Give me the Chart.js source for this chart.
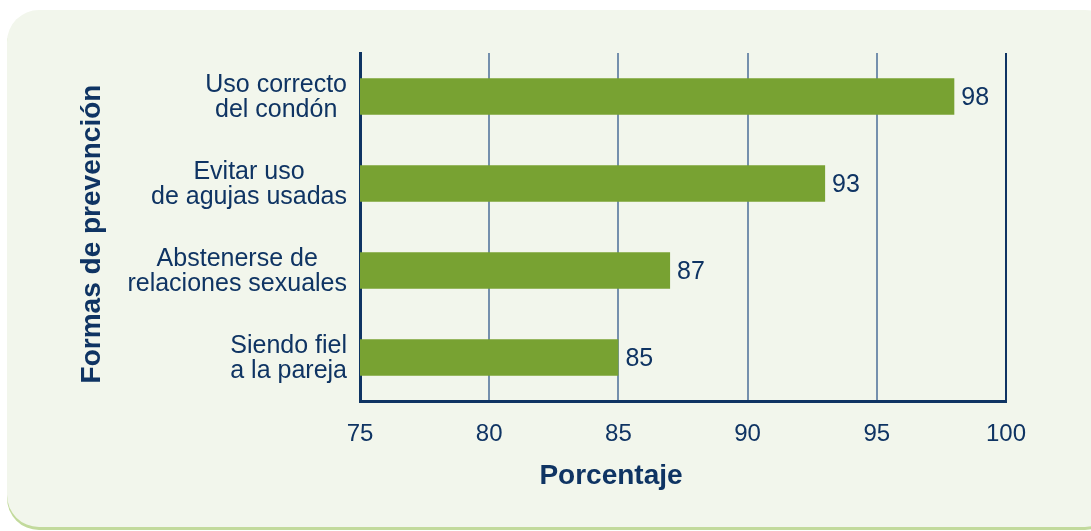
<!DOCTYPE html>
<html>
<head>
<meta charset="utf-8">
<script src="https://cdn.jsdelivr.net/npm/chart.js@4"></script>
<style>
    html, body { margin: 0; padding: 0; background: #ffffff; }
    #panel {
        position: absolute; left: 7px; top: 10px; width: 1110px; height: 517px;
        background: #f2f6ec; border-radius: 32px;
        box-shadow: 0 3px 0 #c2da9c;
    }
    #wrap { position: absolute; left: 0; top: 0; width: 1091px; height: 531px; }
</style>
</head>
<body>
<div id="panel"></div>
<div id="wrap"><canvas id="chart" width="1091" height="531"></canvas></div>
<script>
// categories and values
const categories = [
    ["Uso correcto", "del condón"],
    ["Evitar uso", "de agujas usadas"],
    ["Abstenerse de", "relaciones sexuales"],
    ["Siendo fiel", "a la pareja"]
];
const values = [98, 93, 87, 85];
const xMin = 75, xMax = 100, xStep = 5;
const xTitle = "Porcentaje";
const yTitle = "Formas de prevención";

const navy = "#0f3463";
const gridBlue = "#7590ad";
const barGreen = "#78a232";
const fontFamily = "'Liberation Sans', Arial, Helvetica, sans-serif";

// category labels (each block centred on itself) and the two axis titles
const labelsAndTitles = {
    id: "labelsAndTitles",
    afterDraw(chart) {
        const ctx = chart.ctx;
        const y = chart.scales.y;
        const area = chart.chartArea;
        ctx.save();
        ctx.font = "25px " + fontFamily;
        ctx.fillStyle = navy;
        ctx.textAlign = "center";
        ctx.textBaseline = "middle";
        const lineH = 25;
        categories.forEach((lines, i) => {
            const widest = Math.max(...lines.map(l => ctx.measureText(l).width));
            const cx = area.left - 13 - widest / 2;
            const cy = y.getPixelForValue(i) + 1;
            lines.forEach((l, j) => {
                ctx.fillText(l, cx, cy + (j - (lines.length - 1) / 2) * lineH);
            });
        });

        ctx.font = "bold 28px " + fontFamily;
        ctx.fillText(xTitle, 611, 476);

        ctx.translate(92, 234);
        ctx.rotate(-Math.PI / 2);
        ctx.fillText(yTitle, 0, 0);
        ctx.restore();
    }
};

// value at the end of each bar
const valueLabels = {
    id: "valueLabels",
    afterDatasetsDraw(chart) {
        const ctx = chart.ctx;
        const meta = chart.getDatasetMeta(0);
        ctx.save();
        ctx.font = "25px " + fontFamily;
        ctx.fillStyle = navy;
        ctx.textAlign = "left";
        ctx.textBaseline = "middle";
        meta.data.forEach((bar, i) => {
            ctx.fillText(String(values[i]), bar.x + 7, bar.y + 2);
        });
        ctx.restore();
    }
};

new Chart(document.getElementById("chart"), {
    type: "bar",
    data: {
        labels: categories.map(c => c.join(" ")),
        datasets: [{
            data: values,
            backgroundColor: barGreen,
            borderWidth: 0,
            categoryPercentage: 1,
            barPercentage: 0.42
        }]
    },
    options: {
        indexAxis: "y",
        responsive: false,
        animation: false,
        events: [],
        layout: { padding: { left: 0, top: 53, right: 85, bottom: 0 } },
        plugins: { legend: { display: false }, tooltip: { enabled: false } },
        scales: {
            x: {
                min: xMin, max: xMax,
                ticks: {
                    stepSize: xStep, padding: 19, color: navy,
                    font: { family: fontFamily, size: 24 }
                },
                grid: {
                    drawTicks: false, lineWidth: 2,
                    color: c => c.tick && c.tick.value === xMax ? navy : gridBlue
                },
                border: { color: navy, width: 3 },
                afterFit: s => { s.height = 130; }
            },
            y: {
                ticks: { display: false },
                grid: { display: false, drawTicks: false },
                border: { color: navy, width: 3 },
                afterFit: s => { s.width = 360; }
            }
        }
    },
    plugins: [labelsAndTitles, valueLabels]
});
</script>
</body>
</html>
